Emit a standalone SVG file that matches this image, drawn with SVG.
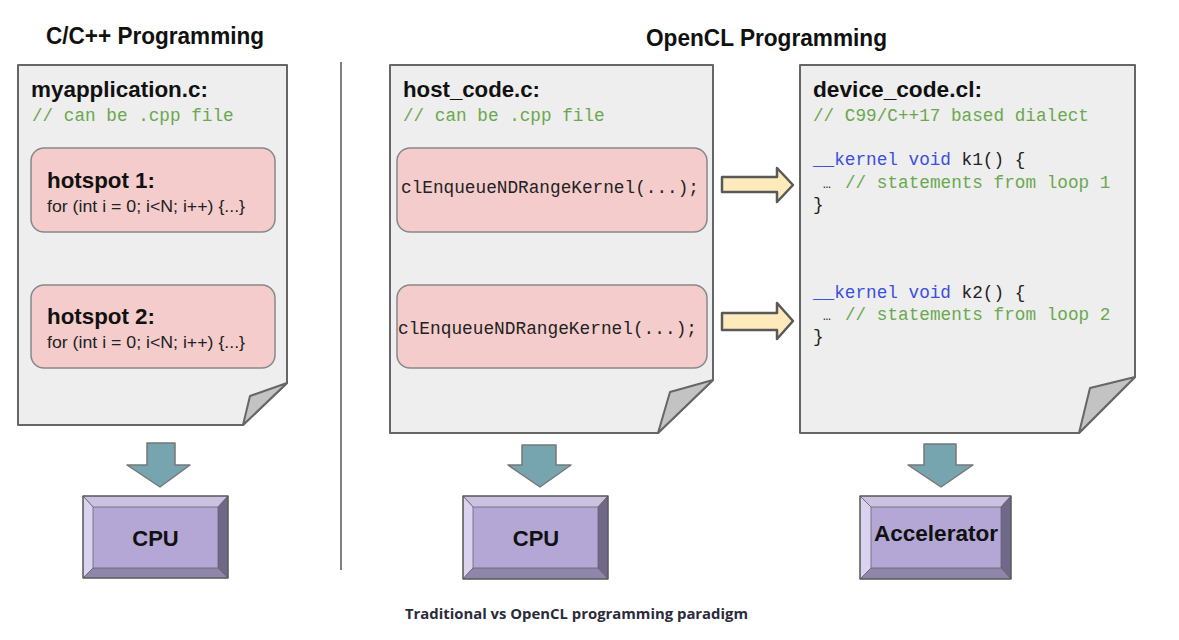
<svg xmlns="http://www.w3.org/2000/svg" width="1179" height="640" viewBox="0 0 1179 640">
<style>
.title{font-family:"Liberation Sans",Arial,sans-serif;font-weight:bold;font-size:23px;fill:#111}
.fname{font-family:"Liberation Sans",Arial,sans-serif;font-weight:bold;font-size:22px;fill:#111}
.mono{font-family:"Liberation Mono","DejaVu Sans Mono",monospace;font-size:17.7px;fill:#222;white-space:pre}
.cmt{fill:#6aa84f}
.kw{fill:#3c4fe0}
.ell{font-size:13px}
.loop{font-family:"Liberation Sans",Arial,sans-serif;font-size:17px;fill:#222}
.doc{fill:#eeeeee;stroke:#666;stroke-width:2;stroke-linejoin:round}
.fold{fill:#c3c3c3;stroke:#666;stroke-width:2;stroke-linejoin:round}
.hot{fill:#f4cccc;stroke:#888;stroke-width:1.5}
.down{fill:#76a5af;stroke:#777;stroke-width:1.5;stroke-linejoin:round}
.right{fill:#ffeabb;stroke:#595959;stroke-width:2.5;stroke-linejoin:round}
.proc{font-family:"Liberation Sans",Arial,sans-serif;font-weight:bold;font-size:22px;fill:#111}
.bt{fill:#cbc2e2}.bl{fill:#d9d3ef}.br{fill:#6f6889}.bb{fill:#8e86ab}
.bi{fill:#b4a7d6}
.bo{fill:none;stroke:#555;stroke-width:1.2}
.bev{stroke:#666;stroke-width:0.8}
.caption{font-family:"Open Sans","Liberation Sans",sans-serif;font-weight:bold;font-size:14.5px;fill:#2b2b3a}
</style>
<rect width="1179" height="640" fill="#ffffff"/>

<g id="titles">
<text class="title" x="46" y="44" textLength="218" lengthAdjust="spacingAndGlyphs">C/C++ Programming</text>
<text class="title" x="646" y="46" textLength="241" lengthAdjust="spacingAndGlyphs">OpenCL Programming</text>
</g>

<g id="divider">
<line x1="341" y1="62" x2="341" y2="570" stroke="#555" stroke-width="1.5"/>
</g>

<g id="myapplication">
<path class="doc" d="M18,65 H287 V383 L243,425 H18 Z"/>
<path class="fold" d="M287,383 L250,396 L243,425 Z"/>
<text class="fname" x="31" y="97" textLength="177" lengthAdjust="spacingAndGlyphs">myapplication.c:</text>
<text class="mono cmt" x="32" y="121">// can be .cpp file</text>
</g>

<g id="hotspot1">
<rect class="hot" x="31" y="148" width="244" height="84" rx="13"/>
<text class="fname" x="47" y="188" textLength="108" lengthAdjust="spacingAndGlyphs">hotspot 1:</text>
<text class="loop" x="47" y="212" textLength="198" lengthAdjust="spacingAndGlyphs">for (int i = 0; i&lt;N; i++) {...}</text>
</g>

<g id="hotspot2">
<rect class="hot" x="31" y="285" width="244" height="83" rx="13"/>
<text class="fname" x="47" y="324" textLength="108" lengthAdjust="spacingAndGlyphs">hotspot 2:</text>
<text class="loop" x="47" y="348" textLength="198" lengthAdjust="spacingAndGlyphs">for (int i = 0; i&lt;N; i++) {...}</text>
</g>

<g id="host_code">
<path class="doc" d="M390,65 H713 V380 L658,433 H390 Z"/>
<path class="fold" d="M713,380 L670,392 L658,433 Z"/>
<text class="fname" x="403" y="97" textLength="137" lengthAdjust="spacingAndGlyphs">host_code.c:</text>
<text class="mono cmt" x="403" y="121">// can be .cpp file</text>
</g>

<g id="enqueue1">
<rect class="hot" x="397" y="148" width="310" height="84" rx="13"/>
<text class="mono" x="401" y="193" textLength="298" lengthAdjust="spacingAndGlyphs">clEnqueueNDRangeKernel(...);</text>
</g>

<g id="enqueue2">
<rect class="hot" x="397" y="285" width="310" height="83" rx="13"/>
<text class="mono" x="398" y="334" textLength="299" lengthAdjust="spacingAndGlyphs">clEnqueueNDRangeKernel(...);</text>
</g>

<g id="device_code">
<path class="doc" d="M800,65 H1135 V377 L1079,433 H800 Z"/>
<path class="fold" d="M1135,377 L1090,388 L1079,433 Z"/>
<text class="fname" x="813" y="97" textLength="169" lengthAdjust="spacingAndGlyphs">device_code.cl:</text>
<text class="mono cmt" x="813" y="121">// C99/C++17 based dialect</text>
<text class="mono" x="813" y="165"><tspan class="kw">__kernel void</tspan> k1() {</text>
<text class="mono" x="823" y="188"><tspan class="ell">…</tspan></text>
<text class="mono cmt" x="845" y="188">// statements from loop 1</text>
<text class="mono" x="813" y="210">}</text>
<text class="mono" x="813" y="298"><tspan class="kw">__kernel void</tspan> k2() {</text>
<text class="mono" x="823" y="320"><tspan class="ell">…</tspan></text>
<text class="mono cmt" x="845" y="320">// statements from loop 2</text>
<text class="mono" x="813" y="342">}</text>
</g>

<g id="cpu1">
<rect class="bi" x="83" y="496" width="145" height="82"/>
<path class="bt bev" d="M83,496 H228 L218,507 H93 Z"/>
<path class="bl bev" d="M83,496 L93,507 V568 L83,578 Z"/>
<path class="br bev" d="M228,496 V578 L218,568 V507 Z"/>
<path class="bb bev" d="M83,578 H228 L218,568 H93 Z"/>
<rect class="bo" x="83" y="496" width="145" height="82"/>
<text class="proc" x="155.5" y="546" text-anchor="middle">CPU</text>
</g>

<g id="cpu2">
<rect class="bi" x="463" y="496" width="145" height="83"/>
<path class="bt bev" d="M463,496 H608 L598,507 H473 Z"/>
<path class="bl bev" d="M463,496 L473,507 V568 L463,579 Z"/>
<path class="br bev" d="M608,496 V579 L598,568 V507 Z"/>
<path class="bb bev" d="M463,579 H608 L598,568 H473 Z"/>
<rect class="bo" x="463" y="496" width="145" height="83"/>
<text class="proc" x="536" y="546" text-anchor="middle">CPU</text>
</g>

<g id="accelerator">
<rect class="bi" x="860" y="496" width="151" height="83"/>
<path class="bt bev" d="M860,496 H1011 L1001,507 H871 Z"/>
<path class="bl bev" d="M860,496 L871,507 V568 L860,579 Z"/>
<path class="br bev" d="M1011,496 V579 L1001,568 V507 Z"/>
<path class="bb bev" d="M860,579 H1011 L1001,568 H871 Z"/>
<rect class="bo" x="860" y="496" width="151" height="83"/>
<text class="proc" x="874" y="541" textLength="124" lengthAdjust="spacingAndGlyphs">Accelerator</text>
</g>

<g id="connectors">
<path class="down" d="M147,443 H175 V465 H190 L160,487 L127,465 H147 Z"/>
<path class="down" d="M522,445 H556 V465 H571 L540,487 L508,465 H522 Z"/>
<path class="down" d="M924,444 H956 V465 H973 L941,487 L908,465 H924 Z"/>
<path class="right" d="M722,177 H777 V168 L793,185 L777,202 V192 H722 Z"/>
<path class="right" d="M722,313 H777 V303 L793,321 L777,339 V330 H722 Z"/>
</g>

<g id="caption">
<text class="caption" x="405" y="619" textLength="343" lengthAdjust="spacingAndGlyphs">Traditional vs OpenCL programming paradigm</text>
</g>
</svg>
